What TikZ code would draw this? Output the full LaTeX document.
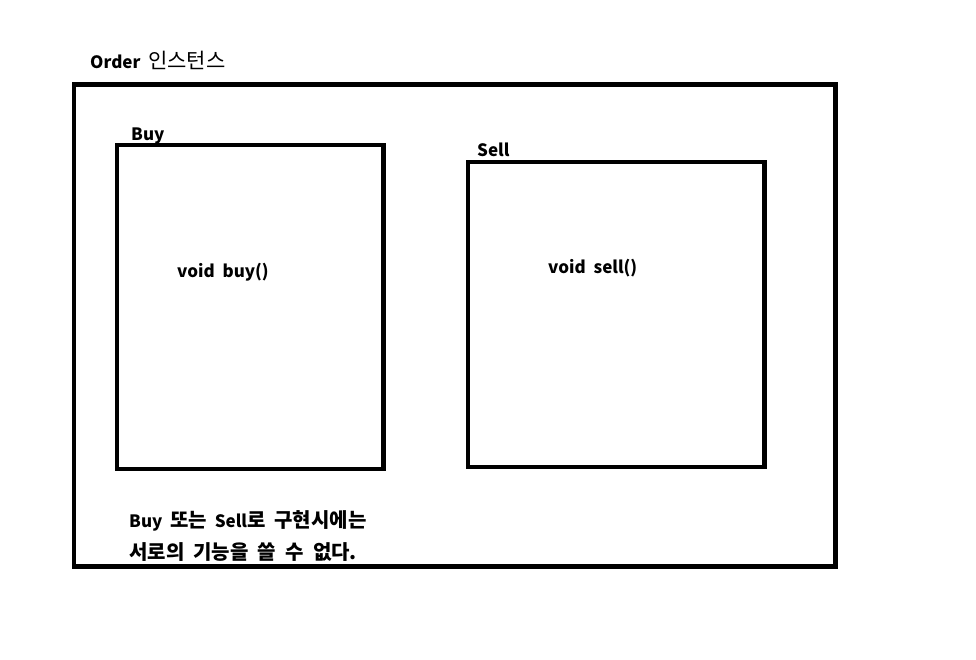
\documentclass[tikz,border=0pt]{standalone}
\usepackage{fontspec}
\setmainfont{Noto Sans CJK KR}[WordSpace=2]
\newcommand{\kr}[1]{{\fontsize{20}{24}\selectfont #1}}
\begin{document}
\begin{tikzpicture}[x=1pt,y=-1pt, every node/.style={inner sep=0pt,anchor=base west,font=\fontsize{17}{20}\selectfont\bfseries}]
		\useasboundingbox (0,0) rectangle (976,659);
		% Order box
		\draw[line width=4.5pt] (74,84.5) rectangle (835.5,566.5);
		\node (order) at (90,68) {Order {\mdseries\fontsize{21}{24}\selectfont 인스턴스}};
		% Buy box
		\draw[line width=4.5pt] (117,145) rectangle (383.5,469);
		\node (buy) at (131,140) {Buy};
		\node (buyfn) at (177,277) {void buy()};
		% Sell box
		\draw[line width=4.5pt] (468,162) rectangle (764.5,467);
		\node (sell) at (477,156) {Sell};
		\node (sellfn) at (548,273) {void sell()};
		% Note
		\node (note1) at (129,527) {Buy \kr{또는} Sell\kr{로 구현시에는}};
		\node (note2) at (129,559) {\kr{서로의 기능을 쓸 수 없다.}};
\end{tikzpicture}
\end{document}
